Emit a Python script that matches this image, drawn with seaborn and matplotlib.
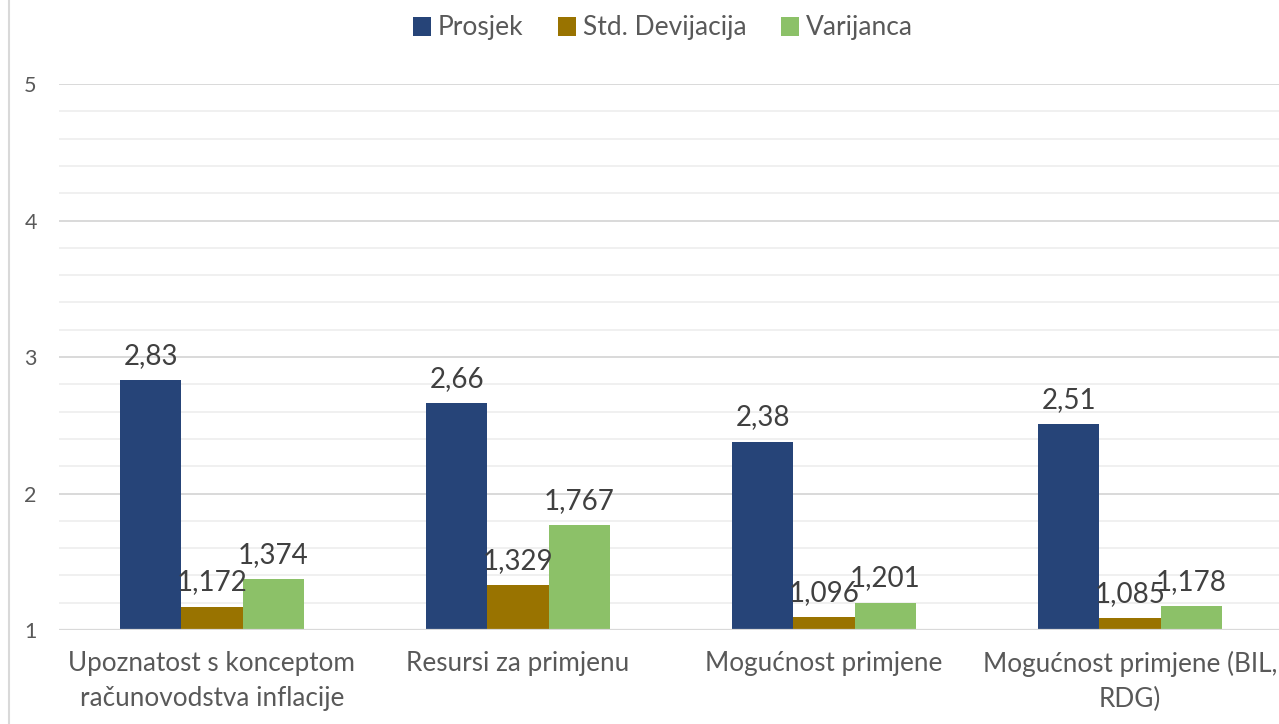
import matplotlib
matplotlib.use("Agg")
import matplotlib.pyplot as plt
from matplotlib.lines import Line2D
from matplotlib.patches import Patch
from matplotlib.ticker import MultipleLocator
import seaborn as sns
import pandas as pd

categories = [
    "Upoznatost s konceptom\nračunovodstva inflacije",
    "Resursi za primjenu",
    "Mogućnost primjene",
    "Mogućnost primjene (BIL,\nRDG)",
]
series = ["Prosjek", "Std. Devijacija", "Varijanca"]
prosjek = [2.83, 2.66, 2.38, 2.51]
std_dev = [1.172, 1.329, 1.096, 1.085]
varijanca = [1.374, 1.767, 1.201, 1.178]
label_prosjek = ["2,83", "2,66", "2,38", "2,51"]
label_std = ["1,172", "1,329", "1,096", "1,085"]
label_var = ["1,374", "1,767", "1,201", "1,178"]
colors = ["#264478", "#997300", "#8CC168"]

df = pd.DataFrame({
    "kategorija": categories * 3,
    "serija": [s for s in series for _ in categories],
    "vrijednost": prosjek + std_dev + varijanca,
})

sns.set_theme(style="white")
plt.rcParams["font.family"] = ["Lato", "DejaVu Sans"]

fig = plt.figure(figsize=(12.79, 7.24), dpi=100)
ax = fig.add_axes([59 / 1279, 1 - 630 / 724, 1224 / 1279, (630 - 84) / 724])

sns.barplot(data=df, x="kategorija", y="vrijednost", hue="serija",
            order=categories, hue_order=series, palette=colors,
            width=0.6, gap=0, saturation=1, legend=False, ax=ax,
            linewidth=0, errorbar=None)

ax.set_ylim(1, 5)
ax.yaxis.set_major_locator(MultipleLocator(1))
ax.yaxis.set_minor_locator(MultipleLocator(0.2))
ax.grid(which="minor", axis="y", color="#EEEEEE", linewidth=1.2)
ax.grid(which="major", axis="y", color="#D9D9D9", linewidth=1.4)
ax.set_axisbelow(True)
for s in ax.spines.values():
    s.set_visible(False)
ax.axhline(1, color="#D9D9D9", linewidth=1.6, zorder=1)

ax.set_xlabel("")
ax.set_ylabel("")
ax.tick_params(axis="y", which="both", length=0, pad=16, labelsize=15.5, labelcolor="#595959")
ax.tick_params(axis="x", length=0, pad=15, labelsize=18.8, labelcolor="#595959")
for lbl in ax.get_xticklabels():
    lbl.set_linespacing(1.5)
    lbl.set_verticalalignment("top")

for cont, labs in zip(ax.containers, [label_prosjek, label_std, label_var]):
    ax.bar_label(cont, labels=labs, padding=8, fontsize=20, color="#404040")

handles = [Patch(facecolor=c, edgecolor="none") for c in colors]
fig.legend(handles, series, loc="center", bbox_to_anchor=(663 / 1279, 1 - 28 / 724),
           ncol=3, frameon=False, fontsize=19, labelcolor="#595959",
           handlelength=0.7, handleheight=0.7, handletextpad=0.25, columnspacing=1.3)

fig.add_artist(Line2D([8.5 / 1279, 8.5 / 1279], [0, 1], color="#D9D9D9", linewidth=1.5))

fig.savefig("out.png", dpi=100)
